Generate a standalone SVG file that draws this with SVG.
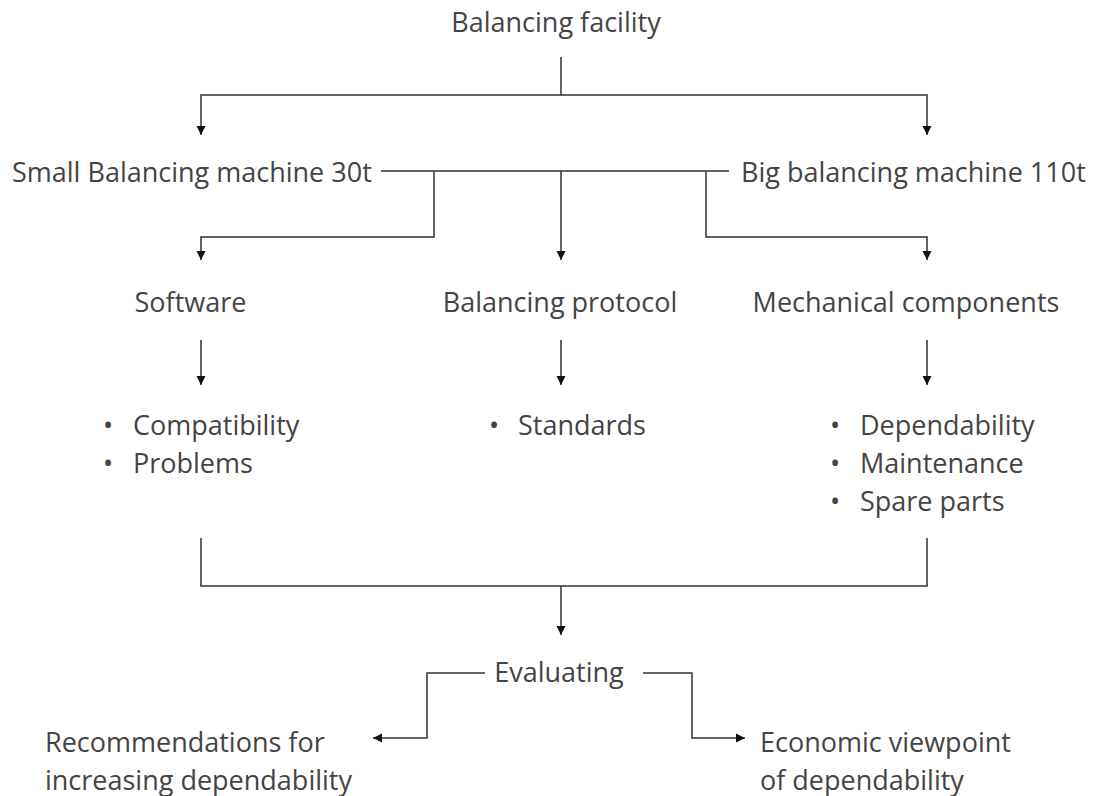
<svg xmlns="http://www.w3.org/2000/svg" width="1107" height="796" viewBox="0 0 1107 796">
  <style>
    text { font-family: "Open Sans", "Noto Sans", sans-serif; font-size: 27px; font-weight: 400; fill: #444; }
    .wire { fill: none; stroke: #333; stroke-width: 1.5; }
  </style>
  <defs>
    <marker id="arrow" viewBox="0 0 10 10" refX="10" refY="5" markerWidth="9" markerHeight="13" markerUnits="userSpaceOnUse" orient="auto">
      <path d="M0,0 L10,5 L0,10 z" fill="#111"/>
    </marker>
  </defs>
  <rect width="1107" height="796" fill="#fff"/>

  <g id="connectors">
    <path class="wire" d="M561,57 V95"/>
    <path class="wire" d="M561,95 H201 V135" marker-end="url(#arrow)"/>
    <path class="wire" d="M561,95 H927 V135" marker-end="url(#arrow)"/>
    <path class="wire" d="M381,171 H729"/>
    <path class="wire" d="M434,171 V237 H201 V260" marker-end="url(#arrow)"/>
    <path class="wire" d="M561,171 V260" marker-end="url(#arrow)"/>
    <path class="wire" d="M706,171 V237 H927 V260" marker-end="url(#arrow)"/>
    <path class="wire" d="M201,340 V385" marker-end="url(#arrow)"/>
    <path class="wire" d="M561,340 V385" marker-end="url(#arrow)"/>
    <path class="wire" d="M927,340 V385" marker-end="url(#arrow)"/>
    <path class="wire" d="M201,538 V586 H927 V538"/>
    <path class="wire" d="M561,586 V635" marker-end="url(#arrow)"/>
    <path class="wire" d="M485,673 H427 V738 H373" marker-end="url(#arrow)"/>
    <path class="wire" d="M643,673 H692 V738 H745" marker-end="url(#arrow)"/>
  </g>

  <g id="balancing-facility"><text x="556" y="32" text-anchor="middle">Balancing facility</text></g>
  <g id="small-machine"><text x="12" y="182">Small Balancing machine 30t</text></g>
  <g id="big-machine"><text x="741" y="182">Big balancing machine 110t</text></g>
  <g id="software"><text x="190.5" y="312" text-anchor="middle">Software</text></g>
  <g id="protocol"><text x="560" y="312" text-anchor="middle">Balancing protocol</text></g>
  <g id="mechanical"><text x="906" y="312" text-anchor="middle">Mechanical components</text></g>
  <g id="software-items">
    <text x="103" y="435">•</text><text x="133" y="435">Compatibility</text>
    <text x="103" y="473">•</text><text x="133" y="473">Problems</text>
  </g>
  <g id="protocol-items">
    <text x="489" y="435">•</text><text x="518" y="435">Standards</text>
  </g>
  <g id="mechanical-items">
    <text x="830" y="435">•</text><text x="860" y="435">Dependability</text>
    <text x="830" y="473">•</text><text x="860" y="473">Maintenance</text>
    <text x="830" y="511">•</text><text x="860" y="511">Spare parts</text>
  </g>
  <g id="evaluating"><text x="559" y="682" text-anchor="middle">Evaluating</text></g>
  <g id="recommendations">
    <text x="45" y="752">Recommendations for</text>
    <text x="45" y="790">increasing dependability</text>
  </g>
  <g id="economic">
    <text x="760" y="752">Economic viewpoint</text>
    <text x="760" y="790">of dependability</text>
  </g>
</svg>
